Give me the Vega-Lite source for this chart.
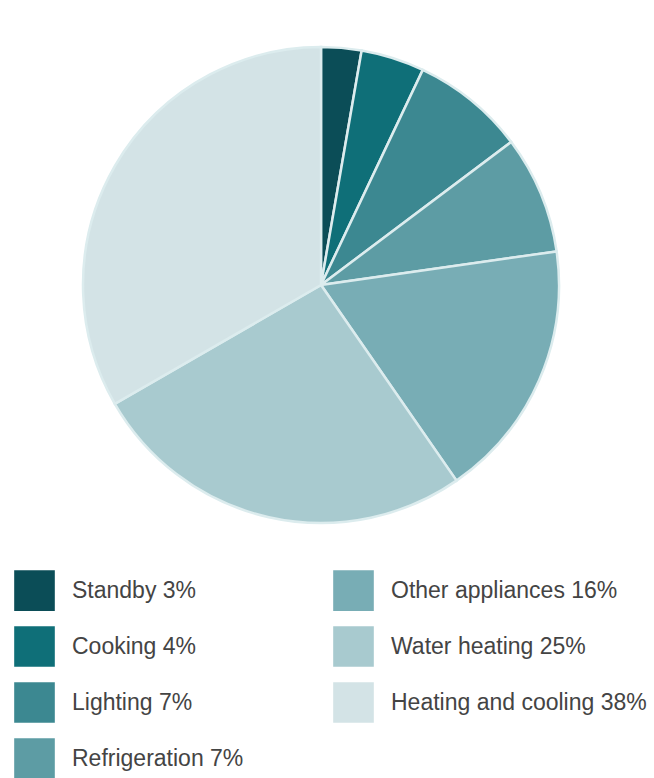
{
  "$schema": "https://vega.github.io/schema/vega-lite/v6.json",
  "width": 642,
  "height": 570,
  "autosize": {"type": "none"},
  "padding": {"left": 0, "top": 0, "right": 12, "bottom": 208},
  "background": "white",
  "config": {"view": {"stroke": null}},
  "data": {
    "values": [
      {"category": "Standby", "pct": 3, "share": 2.73, "idx": 1},
      {"category": "Cooking", "pct": 4, "share": 4.3, "idx": 2},
      {"category": "Lighting", "pct": 7, "share": 7.7, "idx": 3},
      {"category": "Refrigeration", "pct": 7, "share": 8.0, "idx": 4},
      {"category": "Other appliances", "pct": 16, "share": 17.6, "idx": 5},
      {"category": "Water heating", "pct": 25, "share": 26.3, "idx": 6},
      {"category": "Heating and cooling", "pct": 38, "share": 33.3, "idx": 7}
    ]
  },
  "transform": [
    {"calculate": "datum.category + ' ' + datum.pct + '%'", "as": "label"}
  ],
  "mark": {"type": "arc", "radius": 238, "stroke": "#dcecee", "strokeWidth": 2.5},
  "encoding": {
    "theta": {"field": "share", "type": "quantitative", "stack": true},
    "order": {"field": "idx", "type": "quantitative"},
    "color": {
      "field": "label",
      "type": "nominal",
      "scale": {
        "domain": ["Standby 3%", "Cooking 4%", "Lighting 7%", "Refrigeration 7%", "Other appliances 16%", "Water heating 25%", "Heating and cooling 38%"],
        "range": ["#0b4d57", "#0f6f78", "#3c8891", "#5d9ca4", "#78adb5", "#a8cacf", "#d3e3e6"]
      },
      "legend": {
        "orient": "none",
        "legendX": 14,
        "legendY": 570,
        "title": null,
        "columns": 2,
        "direction": "vertical",
        "symbolType": "square",
        "symbolSize": 1650,
        "symbolStrokeWidth": 0,
        "symbolOpacity": 1,
        "labelFont": "Liberation Sans",
        "labelFontSize": 23,
        "labelColor": "#444444",
        "labelOffset": 17,
        "labelLimit": 400,
        "rowPadding": 15,
        "columnPadding": 89,
        "padding": 0
      }
    }
  }
}
